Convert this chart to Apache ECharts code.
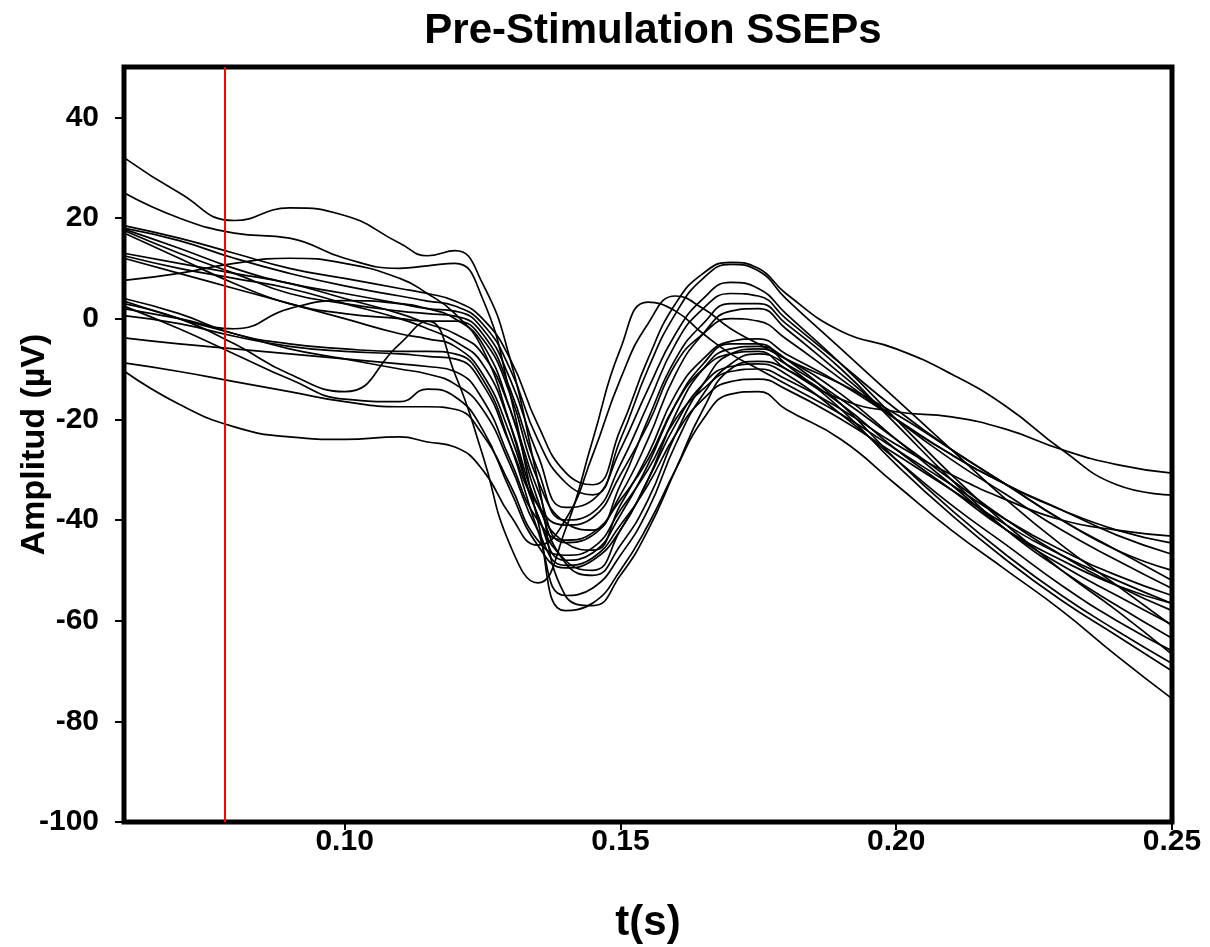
<!DOCTYPE html>
<html>
<head>
<meta charset="utf-8">
<title>Pre-Stimulation SSEPs</title>
<script src="https://cdn.jsdelivr.net/npm/echarts@6/dist/echarts.min.js"></script>
<style>
html, body { margin: 0; padding: 0; background: #fff; }
#chart { width: 1210px; height: 947px; }
</style>
</head>
<body>
<div id="chart"></div>
<script>
// sample times (s), shared by every sweep
var times = [0.06, 0.07, 0.08, 0.09, 0.10, 0.11, 0.115, 0.12, 0.125, 0.13, 0.135, 0.14, 0.145,
             0.15, 0.155, 0.16, 0.165, 0.17, 0.175, 0.18, 0.19, 0.20, 0.21, 0.22, 0.23, 0.24, 0.25];

// amplitude (uV) of each sweep
var sweep01 = [32, 25, 19.5, 22, 20.5, 15, 12.5, 13.5, 7, -8, -32, -55, -57, -51, -42, -30, -18, -10, -8.5, -10, -17, -26, -34, -42, -48, -53, -56.6];
var sweep02 = [25, 20, 17, 16, 12, 10, 10.5, 11, 4, -15, -40, -58, -56.5, -50, -41, -30, -20, -15, -14.5, -18, -24, -33, -42, -50, -58, -67, -75.5];
var sweep03 = [18.5, 16, 13, 10, 8, 6, 5, 3.5, 0, -8, -21, -30.5, -33, -22, -8, 3, 9, 11.2, 10, 5, -2.5, -6, -11, -17.5, -26, -33, -35];
var sweep04 = [18, 15.5, 12, 9, 6.5, 4.5, 3.5, 2.5, -1, -10, -24, -32.5, -35, -24, -10, 1, 8, 10.8, 9.5, 4, -6, -16, -26, -36, -45, -53, -61];
var sweep05 = [17.8, 14, 10, 7, 5, 3, 2, 1.5, -2, -12, -27, -37.5, -36, -26, -14, -3, 4, 7.2, 6, 1, -9, -20, -31, -41, -50, -58, -66.7];
var sweep06 = [17.5, 13, 9, 5, 3, 1.5, 1, 0.5, -3, -14, -30, -40, -38.5, -29, -17, -5, 2, 5, 4.5, 0, -9, -18, -26, -33, -40, -46, -52];
var sweep07 = [17, 12, 7, 3, 1, 0, -0.5, -0.5, -4, -15, -32, -40.5, -42, -33, -20, -8, -1, 3, 3, -1, -10, -21, -32, -42, -50, -57, -63.5];
var sweep08 = [13, 11, 9, 7, 4, 1, -1, -3, -7, -18, -34, -44.5, -43, -35, -24, -11, -3, 1.5, 2, -2, -11, -20, -28, -35, -42, -48, -53.6];
var sweep09 = [12.5, 10, 8, 6, 3, 0, -2, -4.5, -9, -21, -37, -44.5, -46, -37, -27, -15, -8, -4.5, -4, -7, -13, -20, -27, -33, -38, -43, -46.8];
var sweep10 = [12, 9, 6, 3, 0, -3, -4, -5.5, -11, -23, -39, -48, -46.5, -39, -29, -17, -9, -5, -5, -9, -18, -29, -39, -48, -56, -63, -70];
var sweep11 = [7.6, 9, 11, 12, 11, 8, 5, 1, -6, -21, -39, -48, -50, -42, -32, -19, -10, -6, -5.5, -8, -17, -28, -38, -47, -55, -62, -68.5];
var sweep12 = [2, 0, -2, 2, 3.6, 3, 2, 0, -5, -18, -36, -48.5, -51, -45, -36, -23, -13, -7, -6, -8, -15, -24, -33, -42, -49, -55, -60.8];
var sweep13 = [4, 1, -3, -5, -6, -6.5, -6.5, -7, -12, -25, -42, -55, -53.5, -47, -38, -25, -15, -9, -7, -9, -16, -24, -32, -40, -47, -53, -58];
var sweep14 = [3, 0, -5, -11, -14.5, -5, -0.5, -11, -27, -45, -52.5, -42, -24, -6, 3.3, 1.5, -3, -7, -10, -13, -19, -26, -33, -40, -46, -51, -55];
var sweep15 = [0.6, -1, -3.5, -5.5, -6.5, -7, -7.5, -8, -13, -25, -37, -41, -39.5, -31, -21, -9, -3, 0, -0.5, -4, -12, -20, -27, -33, -38, -42, -44.6];
var sweep16 = [2.5, -2, -7, -12, -16, -16.5, -14, -15.5, -22, -34, -45, -49.5, -48, -42, -32, -21, -13, -9.5, -9, -11, -19, -28, -37, -45, -53, -60, -66];
var sweep17 = [-3.8, -5, -6, -7, -8, -9, -9.5, -10.5, -16, -28, -40, -44, -42.5, -36, -28, -17, -10, -7, -6.5, -10, -16, -18.5, -19.5, -22, -26, -29, -30.7];
var sweep18 = [-8.8, -10.5, -12.5, -14.5, -16.5, -17.5, -17.5, -18, -23, -33, -44, -47, -45.5, -38, -30, -20, -14, -10.5, -10, -12, -18, -25, -31, -36, -40, -42, -43.2];
var sweep19 = [-10.4, -17, -21.5, -23.5, -24, -23.5, -24.5, -25.5, -30, -39, -45, -40, -27, -12, -1, 4.5, 2, -2, -5, -8, -13, -19, -26, -33, -40, -46, -50];
var sweep20 = [3.5, 0, -3, -6, -8, -10, -11, -13, -18, -29, -42, -49, -47.5, -41, -33, -23, -16, -12.5, -12, -14, -20, -27, -34, -41, -47, -52, -56.6];

var sweeps = [sweep01, sweep02, sweep03, sweep04, sweep05, sweep06, sweep07, sweep08, sweep09, sweep10,
              sweep11, sweep12, sweep13, sweep14, sweep15, sweep16, sweep17, sweep18, sweep19, sweep20];

// stimulus marker (s), axis extents and tick labels
var stimMarker = 0.0783;
var xRange = [0.06, 0.25];
var yRange = [-100, 50];
var xTicks = [0.10, 0.15, 0.20, 0.25];
var yTicks = [-100, -80, -60, -40, -20, 0, 20, 40];

var initSsepChart = function(chartId){
	var dom = document.getElementById(chartId);
	var myChart = echarts.init(dom);
	var font = "'Liberation Sans', Arial, sans-serif";

	var series = sweeps.map(function(sweep, i){
		return {
			name: 'sweep' + (i + 1),
			type: 'line',
			smooth: true,
			symbol: 'none',
			lineStyle: { color: '#000', width: 1.7 },
			data: times.map(function(t, j){ return [t, sweep[j]]; })
		};
	});

	// red stimulus line
	series[0].markLine = {
		silent: true,
		symbol: 'none',
		label: { show: false },
		lineStyle: { color: '#ff0000', width: 2, type: 'solid' },
		data: [[{ coord: [stimMarker, yRange[0]] }, { coord: [stimMarker, yRange[1]] }]]
	};

	var option = {
		animation: false,
		backgroundColor: '#fff',
	    title: {
	        text: 'Pre-Stimulation SSEPs',
	        left: 648,
	        textAlign: 'center',
	        top: 5,
	        textStyle: { fontFamily: font, fontSize: 42, fontWeight: 'bold', color: '#000' }
	    },
	    grid: {
	        left: 124,
	        right: 38,
	        top: 67,
	        bottom: 125,
	        containLabel: false,
	        outerBoundsMode: 'none',
	        show: true,
	        borderColor: '#000',
	        borderWidth: 5
	    },
	    xAxis: {
	        type: 'value',
	        min: xRange[0],
	        max: xRange[1],
	        name: 't(s)',
	        nameLocation: 'middle',
	        nameGap: 80,
	        nameMoveOverlap: false,
	        nameTextStyle: { fontFamily: font, fontSize: 42, fontWeight: 'bold', color: '#000' },
	        axisLine: { show: false, onZero: false },
	        axisTick: { show: true, customValues: xTicks, length: 8, lineStyle: { color: '#000', width: 2 } },
	        axisLabel: {
	            customValues: xTicks,
	            formatter: function(v){ return v.toFixed(2); },
	            fontFamily: font, fontSize: 30, fontWeight: 'bold', color: '#000', margin: 5
	        },
	        splitLine: { show: false }
	    },
	    yAxis: {
	        type: 'value',
	        min: yRange[0],
	        max: yRange[1],
	        name: 'Amplitud (µV)',
	        nameLocation: 'middle',
	        nameGap: 72,
	        nameMoveOverlap: false,
	        nameRotate: 90,
	        nameTextStyle: { fontFamily: font, fontSize: 34, fontWeight: 'bold', color: '#000' },
	        axisLine: { show: false, onZero: false },
	        axisTick: { show: true, customValues: yTicks, length: 9, lineStyle: { color: '#000', width: 2 } },
	        axisLabel: {
	            customValues: yTicks,
	            fontFamily: font, fontSize: 30, fontWeight: 'bold', color: '#000', margin: 25
	        },
	        splitLine: { show: false }
	    },
	    series: series
	};

	if (option && typeof option === "object") {
	    myChart.setOption(option, true);
	}
}

initSsepChart('chart');
</script>
</body>
</html>
